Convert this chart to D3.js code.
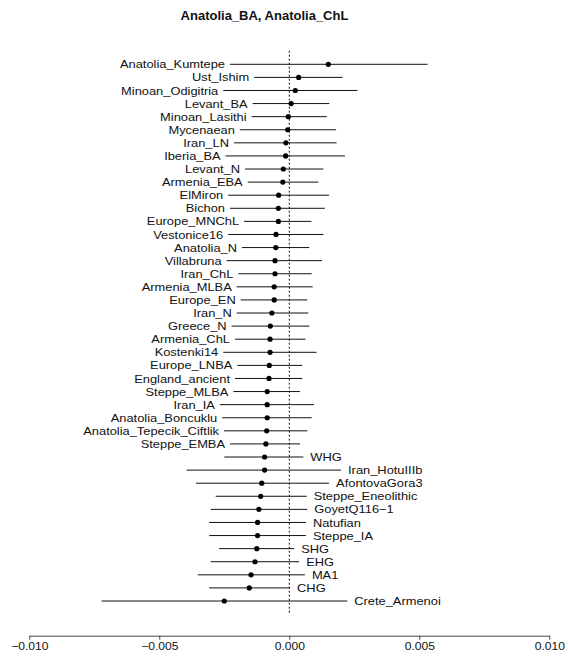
<!DOCTYPE html>
<html>
<head>
<meta charset="utf-8">
<script src="https://cdn.jsdelivr.net/npm/d3@7"></script>
<style>
  html, body { margin: 0; padding: 0; background: #fff; }
  svg { display: block; }
  text { font-family: "Liberation Sans", Arial, Helvetica, sans-serif; fill: #111; }
</style>
</head>
<body>
<div id="chart"></div>
<script>
// f4-style statistic per population, with confidence interval bounds
const populations = [
  "Anatolia_Kumtepe", "Ust_Ishim", "Minoan_Odigitria", "Levant_BA", "Minoan_Lasithi",
  "Mycenaean", "Iran_LN", "Iberia_BA", "Levant_N", "Armenia_EBA",
  "ElMiron", "Bichon", "Europe_MNChL", "Vestonice16", "Anatolia_N",
  "Villabruna", "Iran_ChL", "Armenia_MLBA", "Europe_EN", "Iran_N",
  "Greece_N", "Armenia_ChL", "Kostenki14", "Europe_LNBA", "England_ancient",
  "Steppe_MLBA", "Iran_IA", "Anatolia_Boncuklu", "Anatolia_Tepecik_Ciftlik", "Steppe_EMBA",
  "WHG", "Iran_HotuIIIb", "AfontovaGora3", "Steppe_Eneolithic", "GoyetQ116\u22121",
  "Natufian", "Steppe_IA", "SHG", "EHG", "MA1",
  "CHG", "Crete_Armenoi"
];
const estimate = [
  0.00150, 0.00036, 0.00023, 0.00007, -0.00004,
  -0.00006, -0.00013, -0.00014, -0.00023, -0.00025,
  -0.00041, -0.00042, -0.00042, -0.00051, -0.00052,
  -0.00055, -0.00055, -0.00058, -0.00058, -0.00067,
  -0.00073, -0.00074, -0.00074, -0.00077, -0.00078,
  -0.00085, -0.00085, -0.00085, -0.00087, -0.00090,
  -0.00095, -0.00095, -0.00106, -0.00110, -0.00117,
  -0.00122, -0.00122, -0.00125, -0.00132, -0.00147,
  -0.00154, -0.00250
];
const lower = [
  -0.00228, -0.00135, -0.00254, -0.00141, -0.00145,
  -0.00190, -0.00213, -0.00245, -0.00170, -0.00160,
  -0.00235, -0.00228, -0.00174, -0.00235, -0.00182,
  -0.00241, -0.00196, -0.00202, -0.00187, -0.00202,
  -0.00222, -0.00209, -0.00254, -0.00200, -0.00209,
  -0.00215, -0.00267, -0.00258, -0.00251, -0.00228,
  -0.00250, -0.00395, -0.00359, -0.00283, -0.00302,
  -0.00308, -0.00308, -0.00270, -0.00302, -0.00352,
  -0.00308, -0.00722
];
const upper = [
  0.00532, 0.00205, 0.00262, 0.00154, 0.00144,
  0.00180, 0.00182, 0.00214, 0.00131, 0.00112,
  0.00153, 0.00137, 0.00085, 0.00131, 0.00077,
  0.00126, 0.00086, 0.00090, 0.00069, 0.00073,
  0.00077, 0.00062, 0.00105, 0.00050, 0.00050,
  0.00041, 0.00095, 0.00086, 0.00069, 0.00041,
  0.00054, 0.00199, 0.00153, 0.00067, 0.00069,
  0.00064, 0.00064, 0.00019, 0.00038, 0.00060,
  0.00003, 0.00223
];
const xTicks = [-0.010, -0.005, 0.000, 0.005, 0.010];
const chartTitle = "Anatolia_BA, Anatolia_ChL";

const W = 568, H = 656;
const leftLabelled = 30;   // first rows carry their label on the left of the interval
const textStretch = 1.15;  // labels are set slightly wide

const rows = populations.map((name, i) => ({
  name, est: estimate[i], lo: lower[i], hi: upper[i], left: i < leftLabelled
}));

const x = d3.scaleLinear().domain([-0.010, 0.010]).range([29.3, 549.3]);
const y = d3.scalePoint().domain(populations).range([64.3, 601]);
const step = y.step();

const svg = d3.select("#chart").append("svg")
  .attr("width", W).attr("height", H);

svg.append("text")
  .attr("x", 264.5).attr("y", 19.5)
  .attr("text-anchor", "middle")
  .style("font-weight", "bold")
  .style("font-size", "13px")
  .text(chartTitle);

// reference line at zero
svg.append("line")
  .attr("x1", x(0)).attr("x2", x(0))
  .attr("y1", y(populations[0]) - step * 1.04)
  .attr("y2", y(populations[populations.length - 1]) + step * 0.95)
  .attr("stroke", "#111").attr("stroke-width", 1)
  .attr("stroke-dasharray", "2,2");

const g = svg.append("g").selectAll("g").data(rows).join("g");

g.append("line")
  .attr("x1", d => x(d.lo)).attr("x2", d => x(d.hi))
  .attr("y1", d => y(d.name)).attr("y2", d => y(d.name))
  .attr("stroke", "#111").attr("stroke-width", 1);

g.append("circle")
  .attr("cx", d => x(d.est)).attr("cy", d => y(d.name))
  .attr("r", 2.6).attr("fill", "#000");

g.append("text")
  .attr("transform", d => {
    const tx = d.left ? x(d.lo) - 5 : x(d.hi) + 7;
    return `translate(${tx},${y(d.name)}) scale(${textStretch},1)`;
  })
  .attr("dy", "0.36em")
  .attr("text-anchor", d => d.left ? "end" : "start")
  .style("font-size", "11.2px")
  .text(d => d.name);

// bottom axis
const axis = d3.axisBottom(x)
  .tickValues(xTicks)
  .tickFormat(d => d3.format(".3f")(d).replace("-", "\u2212"))
  .tickSizeInner(4).tickSizeOuter(0).tickPadding(2);

const ax = svg.append("g")
  .attr("transform", "translate(0,635.7)")
  .call(axis);
ax.select(".domain").attr("stroke", "#444");
ax.selectAll(".tick line").attr("stroke", "#444");
ax.selectAll(".tick text")
  .attr("y", null).attr("dy", null)
  .attr("transform", `translate(0,14.3) scale(1.13,1)`)
  .style("font-size", "10.7px")
  .style("font-family", "\"Liberation Sans\", Arial, sans-serif")
  .attr("fill", "#111");
</script>
</body>
</html>
